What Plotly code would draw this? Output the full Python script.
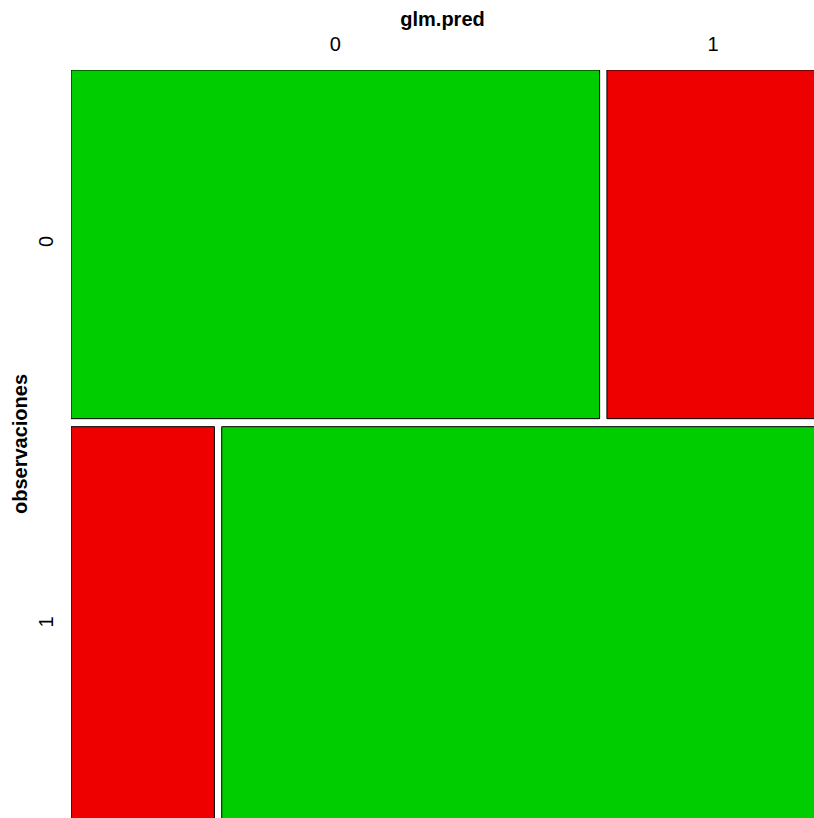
import plotly.graph_objects as go

# Data: confusion table (rows = observaciones, cols = glm.pred)
pred_levels = ["0", "1"]
obs_levels = ["0", "1"]
counts_obs0 = [334, 134]
counts_obs1 = [103, 429]
counts = [counts_obs0, counts_obs1]

# Layout / style constants (pixels)
W, H = 814, 818
ML, MT = 71, 70
SPAN_X, SPAN_Y = 748, 753
GAP_X, GAP_Y = 7.3, 8
GREEN, RED = "#00CD00", "#EE0000"

N = sum(sum(r) for r in counts)
row_tot = [sum(r) for r in counts]
avail_y = SPAN_Y - GAP_Y
avail_x = SPAN_X - GAP_X

row_h = [t / N * avail_y for t in row_tot]
row_start = []
acc = 0
for h in row_h:
    row_start.append(acc)
    acc += h + GAP_Y

traces = {GREEN: dict(base=[], x=[], y=[], width=[]), RED: dict(base=[], x=[], y=[], width=[])}
col_centers_top = []
for i, row in enumerate(counts):
    xs = 0
    for j, c in enumerate(row):
        w = c / row_tot[i] * avail_x
        color = GREEN if i == j else RED
        t = traces[color]
        t["base"].append(xs)
        t["x"].append(w)
        t["y"].append(row_start[i] + row_h[i] / 2)
        t["width"].append(row_h[i])
        if i == 0:
            col_centers_top.append(xs + w / 2)
        xs += w + GAP_X

fig = go.Figure()
for color, t in traces.items():
    fig.add_trace(go.Bar(
        orientation="h", base=t["base"], x=t["x"], y=t["y"], width=t["width"],
        marker=dict(color=color, line=dict(color="black", width=1)),
        hoverinfo="skip", showlegend=False,
    ))

font = dict(family="Liberation Sans, Arial, sans-serif", size=20, color="black")
fig.update_layout(
    width=W, height=H, barmode="overlay",
    margin=dict(l=ML, t=MT, r=0, b=0, pad=0),
    paper_bgcolor="white", plot_bgcolor="white",
    font=font,
    xaxis=dict(
        range=[0, W - ML], side="top", showgrid=False, zeroline=False, showline=False,
        tickvals=col_centers_top, ticktext=pred_levels, ticks="", tickfont=font,
        ticklabelstandoff=14, automargin=False,
        title=dict(text="<b>glm.pred</b>", font=font, standoff=1),
    ),
    yaxis=dict(
        range=[H - MT, 0], showgrid=False, zeroline=False, showline=False,
        tickvals=[row_start[i] + row_h[i] / 2 for i in range(2)], ticktext=obs_levels,
        ticks="", tickfont=font, tickangle=-90, ticklabelstandoff=13, automargin=False,
        title=dict(text="<b>observaciones</b>", font=font, standoff=2),
    ),
)

fig.write_html(
    "out.html",
    config={"displayModeBar": False},
    post_script="document.body.style.margin='0';document.body.style.overflow='hidden';",
)
